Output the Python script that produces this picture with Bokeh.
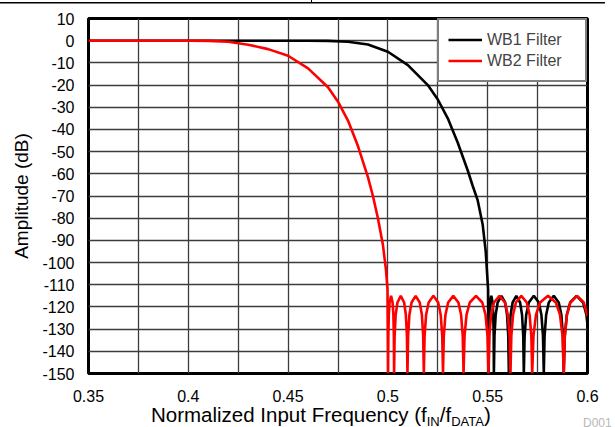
from bokeh.plotting import figure
from bokeh.layouts import column
from bokeh.models import FixedTicker, Legend, LegendItem, Range1d, Div
from bokeh.embed import file_html
from bokeh.resources import INLINE

# ---- data (frequency, amplitude dB) ----
wb1_f = [0.35, 0.45, 0.46, 0.47, 0.48, 0.49, 0.50, 0.51, 0.52, 0.525, 0.53, 0.535, 0.54, 0.5425,
         0.545, 0.5475, 0.549, 0.5502, 0.5505,
         0.5506, 0.55081, 0.55115, 0.5518, 0.55245, 0.55279, 0.553, 0.5531,
         0.5534, 0.5540, 0.55498, 0.55685, 0.55873, 0.5597, 0.5603, 0.5606,
         0.5609, 0.5615, 0.56248, 0.56435, 0.56623, 0.5672, 0.5678, 0.5681,
         0.5685, 0.5693, 0.5706, 0.5731, 0.5756, 0.5769, 0.5777, 0.5781,
         0.5785, 0.5793, 0.5806, 0.5831, 0.5856, 0.5869, 0.5877, 0.5881,
         0.58862, 0.58965, 0.59133, 0.59455, 0.59778, 0.59945, 0.6]
wb1_db = [0, 0, -0.05, -0.1, -0.5, -1.7, -5, -11, -20, -26.5, -35, -46, -58.5, -65.5,
          -72, -83, -95, -112, -150,
          -133, -123.5, -118, -115, -118, -123.5, -133, -150,
          -133, -123.5, -118, -115, -118, -123.5, -133, -150,
          -133, -123.5, -118, -115, -118, -123.5, -133, -150,
          -133, -123.5, -118, -115, -118, -123.5, -133, -150,
          -133, -123.5, -118, -115, -118, -123.5, -133, -150,
          -133, -123.5, -118, -115, -118, -123.5, -128]

wb2_f = [0.35, 0.40, 0.41, 0.42, 0.43, 0.44, 0.45, 0.46, 0.47, 0.475, 0.48, 0.485, 0.49, 0.4925,
         0.495, 0.4975, 0.499, 0.4998, 0.5001,
         0.50022, 0.50046, 0.50085, 0.5016, 0.50235, 0.50274, 0.50298, 0.5031,
         0.50337, 0.5039, 0.50478, 0.50645, 0.50813, 0.5090, 0.50953, 0.5098,
         0.51013, 0.51078, 0.51185, 0.5139, 0.51595, 0.51702, 0.51767, 0.5180,
         0.51838, 0.51915, 0.5204, 0.5228, 0.5252, 0.52645, 0.52722, 0.5276,
         0.52801, 0.52884, 0.53018, 0.53275, 0.53533, 0.53666, 0.53749, 0.5379,
         0.5384, 0.5394, 0.54103, 0.54415, 0.54728, 0.5489, 0.5499, 0.5504,
         0.55084, 0.55172, 0.55315, 0.5559, 0.55865, 0.56008, 0.56096, 0.5614,
         0.56184, 0.56271, 0.56413, 0.56685, 0.56958, 0.57099, 0.57186, 0.5723,
         0.57293, 0.5742, 0.57625, 0.5802, 0.58415, 0.5862, 0.58747, 0.5881,
         0.58864, 0.58971, 0.59145, 0.5948, 0.59815, 0.6]
wb2_db = [0, 0, -0.1, -0.5, -1.8, -3.8, -6.8, -12.5, -21, -27.5, -36, -47.5, -61.5, -70,
          -80, -92, -103, -112, -150,
          -133, -123.5, -118, -115, -118, -123.5, -133, -150,
          -133, -123.5, -118, -115, -118, -123.5, -133, -150,
          -133, -123.5, -118, -115, -118, -123.5, -133, -150,
          -133, -123.5, -118, -115, -118, -123.5, -133, -150,
          -133, -123.5, -118, -115, -118, -123.5, -133, -150,
          -133, -123.5, -118, -115, -118, -123.5, -133, -150,
          -133, -123.5, -118, -115, -118, -123.5, -133, -150,
          -133, -123.5, -118, -115, -118, -123.5, -133, -150,
          -133, -123.5, -118, -115, -118, -123.5, -133, -150,
          -133, -123.5, -118, -115, -118, -124]

series_names = ["WB1 Filter", "WB2 Filter"]
series_colors = ["#000000", "#ff0000"]

x_major = [0.35, 0.4, 0.45, 0.5, 0.55, 0.6]
x_major_labels = ["0.35", "0.4", "0.45", "0.5", "0.55", "0.6"]
x_minor = [0.375, 0.425, 0.475, 0.525, 0.575]
y_major = [10, 0, -10, -20, -30, -40, -50, -60, -70, -80, -90, -100, -110, -120, -130, -140, -150]

FONT = "Liberation Sans"

p = figure(width=615, height=400,
           x_range=Range1d(0.35, 0.6), y_range=Range1d(-150, 10),
           output_backend="svg", toolbar_location=None,
           min_border_left=88, min_border_right=28, min_border_top=14, min_border_bottom=31)
p.background_fill_color = "white"
p.border_fill_color = "white"
p.outline_line_color = "black"
p.outline_line_width = 3

p.xaxis.ticker = FixedTicker(ticks=x_major, minor_ticks=x_minor)
p.xaxis.major_label_overrides = {v: s for v, s in zip(x_major, x_major_labels)}
p.yaxis.ticker = FixedTicker(ticks=y_major)
p.yaxis.major_label_overrides = {v: str(v) for v in y_major}
for ax in (p.xaxis[0], p.yaxis[0]):
    ax.axis_line_color = None
    ax.major_tick_line_color = None
    ax.minor_tick_line_color = None
    ax.major_label_text_font = FONT
    ax.major_label_text_font_size = "16px"
    ax.major_label_text_color = "black"
p.xaxis.major_label_standoff = 10
p.yaxis.major_label_standoff = 8
p.yaxis.axis_label = "Amplitude (dB)"
p.yaxis.axis_label_text_font = FONT
p.yaxis.axis_label_text_font_size = "19px"
p.yaxis.axis_label_text_font_style = "normal"
p.yaxis.axis_label_text_color = "black"
p.yaxis.axis_label_standoff = 7

grid_color = "#3c3c3c"
p.xgrid.grid_line_color = grid_color
p.xgrid.grid_line_width = 1.3
p.xgrid.minor_grid_line_color = grid_color
p.xgrid.minor_grid_line_width = 1.3
p.ygrid.grid_line_color = grid_color
p.ygrid.grid_line_width = 1.3

r1 = p.line(wb1_f, wb1_db, line_color=series_colors[0], line_width=2.6)
r2 = p.line(wb2_f, wb2_db, line_color=series_colors[1], line_width=2.6)

legend = Legend(items=[LegendItem(label=series_names[0], renderers=[r1]),
                       LegendItem(label=series_names[1], renderers=[r2])],
                location="top_right", margin=0, padding=9, spacing=0,
                border_line_color="black", border_line_width=2,
                background_fill_color="white", background_fill_alpha=1,
                label_text_font=FONT, label_text_font_size="16px",
                glyph_width=34, glyph_height=21, label_height=21, label_width=89,
                label_standoff=5)
p.add_layout(legend)

# thin page rule above the chart (as in the reference crop)
top_div = Div(text="", width=615, height=4, margin=0,
              styles={"background": "linear-gradient(#000, #000) 311px 0px / 1px 3px no-repeat, "
                                    "linear-gradient(#000, #000) 0px 2px / 605px 1.5px no-repeat"})

sub = 'font-size:13px;vertical-align:-3.5px;'
bottom_html = ('<div style="position:relative;width:615px;height:23px;font-family:\'Liberation Sans\';color:#000;">'
               '<span style="position:absolute;left:151px;top:-1px;font-size:20.5px;line-height:normal;white-space:nowrap;">'
               'Normalized Input Frequency (f<span style="' + sub + '">IN</span>/f'
               '<span style="' + sub + '">DATA</span>)</span>'
               '<span style="position:absolute;left:583px;top:12px;font-size:12px;line-height:normal;color:#b8b8b8;">D001</span>'
               '</div>')
bottom_div = Div(text=bottom_html, width=615, height=23, margin=0)

layout = column(top_div, p, bottom_div, spacing=0)

open("out.html", "w").write(file_html(layout, INLINE))
